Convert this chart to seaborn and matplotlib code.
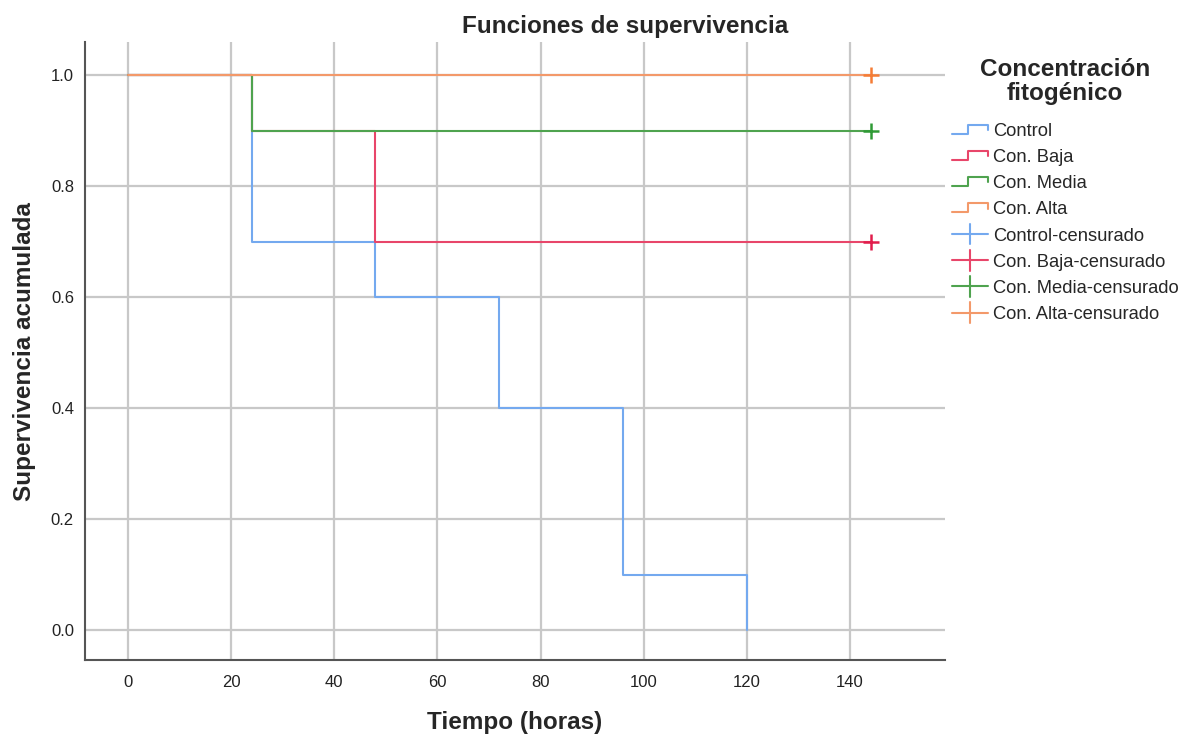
import numpy as np
import pandas as pd
import matplotlib
matplotlib.use("Agg")
import matplotlib.pyplot as plt
import seaborn as sns
from matplotlib.lines import Line2D
from matplotlib.legend_handler import HandlerBase

# Kaplan-Meier steps
groups = ["Control", "Con. Baja", "Con. Media", "Con. Alta"]
control_t = [0, 24, 48, 72, 96, 120]
control_s = [1.0, 0.7, 0.6, 0.4, 0.1, 0.0]
baja_t = [0, 24, 48, 144]
baja_s = [1.0, 0.9, 0.7, 0.7]
media_t = [0, 24, 144]
media_s = [1.0, 0.9, 0.9]
alta_t = [0, 144]
alta_s = [1.0, 1.0]
# censored observations (time, survival)
cens_group = ["Con. Baja", "Con. Media", "Con. Alta"]
cens_t = [144, 144, 144]
cens_s = [0.7, 0.9, 1.0]

line_colors = ["#74a9ef", "#e8466a", "#4fa34f", "#f3996a"]
mark_colors = ["#5f9cf0", "#e11d4c", "#2f9a35", "#f57c35"]

rows = []
for g, t, s in zip(groups, [control_t, baja_t, media_t, alta_t],
                   [control_s, baja_s, media_s, alta_s]):
    for ti, si in zip(t, s):
        rows.append({"grupo": g, "tiempo": ti, "surv": si})
df = pd.DataFrame(rows)
cens = pd.DataFrame({"grupo": cens_group, "tiempo": cens_t, "surv": cens_s})

sns.set_style("white")
plt.rcParams["font.family"] = ["Liberation Sans", "DejaVu Sans"]

fig = plt.figure(figsize=(11.95, 7.36), dpi=100)
ax = fig.add_axes([85 / 1195, 1 - 660 / 736, 860 / 1195, 618 / 736])

for g, c in zip(groups, line_colors):
    sub = df[df.grupo == g]
    sns.lineplot(data=sub, x="tiempo", y="surv", ax=ax, color=c,
                 drawstyle="steps-post", lw=1.5, legend=False, zorder=3)

for g, c in zip(groups, mark_colors):
    sub = cens[cens.grupo == g]
    if len(sub):
        sns.scatterplot(data=sub, x="tiempo", y="surv", ax=ax, marker="+",
                        s=140, color=c, linewidth=1.8, legend=False, zorder=4)

ax.set_xlim(-8.3, 158.4)
ax.set_ylim(-0.054, 1.06)
ax.set_xticks(np.arange(0, 141, 20))
ax.set_yticks(np.arange(0, 1.01, 0.2))
ax.set_yticklabels([f"{v:.1f}" for v in np.arange(0, 1.01, 0.2)])
ax.set_xlabel("")
ax.set_ylabel("")
ax.grid(True, color="#c8c8c8", lw=1.6, zorder=0)
ax.set_axisbelow(True)
for side in ["top", "right"]:
    ax.spines[side].set_visible(False)
for side in ["left", "bottom"]:
    ax.spines[side].set_color("#555555")
    ax.spines[side].set_linewidth(1.5)
ax.tick_params(axis="both", labelsize=12, colors="#222222", length=0)
ax.tick_params(axis="x", pad=11)
ax.tick_params(axis="y", pad=8)
fig.text(515 / 1195, 1 - 722 / 736, "Tiempo (horas)", ha="center", va="center",
         fontsize=17.5, fontweight="bold")
fig.text(25 / 1195, 1 - 352 / 736, "Supervivencia acumulada", ha="center",
         va="center", rotation=90, fontsize=17.5, fontweight="bold")
fig.text(625 / 1195, 1 - 26 / 736, "Funciones de supervivencia", ha="center",
         va="center", fontsize=17.5, fontweight="bold")


class StepHandler(HandlerBase):
    def create_artists(self, legend, orig, xd, yd, w, h, fontsize, trans):
        xs = np.array([0, 0.45, 0.45, 1.0, 1.0]) * w - xd
        ys = np.array([0.15, 0.15, 0.85, 0.85, 0.45]) * h - yd
        ln = Line2D(xs, ys, color=orig.get_color(), lw=1.5, transform=trans)
        return [ln]


class CrossHandler(HandlerBase):
    def create_artists(self, legend, orig, xd, yd, w, h, fontsize, trans):
        hl = Line2D([-xd, w - xd], [h / 2 - yd, h / 2 - yd],
                    color=orig.get_color(), lw=1.5, transform=trans)
        vl = Line2D([w / 2 - xd, w / 2 - xd], [-0.3 * h - yd, 1.3 * h - yd],
                    color=orig.get_color(), lw=1.5, transform=trans)
        return [hl, vl]


step_handles = [Line2D([], [], color=c) for c in line_colors]
cross_handles = [Line2D([], [], color=c) for c in line_colors]
labels = groups + [g + "-censurado" for g in groups]
hmap = {h: StepHandler() for h in step_handles}
hmap.update({h: CrossHandler() for h in cross_handles})
leg = fig.legend(step_handles + cross_handles, labels, handler_map=hmap,
                 loc="upper left", bbox_to_anchor=(935 / 1195, 1 - 42 / 736),
                 frameon=False, fontsize=13.2, handlelength=2.0, handletextpad=0.25,
                 labelspacing=0.5, title="Concentración\nfitogénico",
                 title_fontproperties={"weight": "bold", "size": 17.5})
leg.get_title().set_multialignment("center")
leg.get_title().set_linespacing(1.05)
leg._legend_box.sep += 6

fig.savefig("out.png", dpi=100)
